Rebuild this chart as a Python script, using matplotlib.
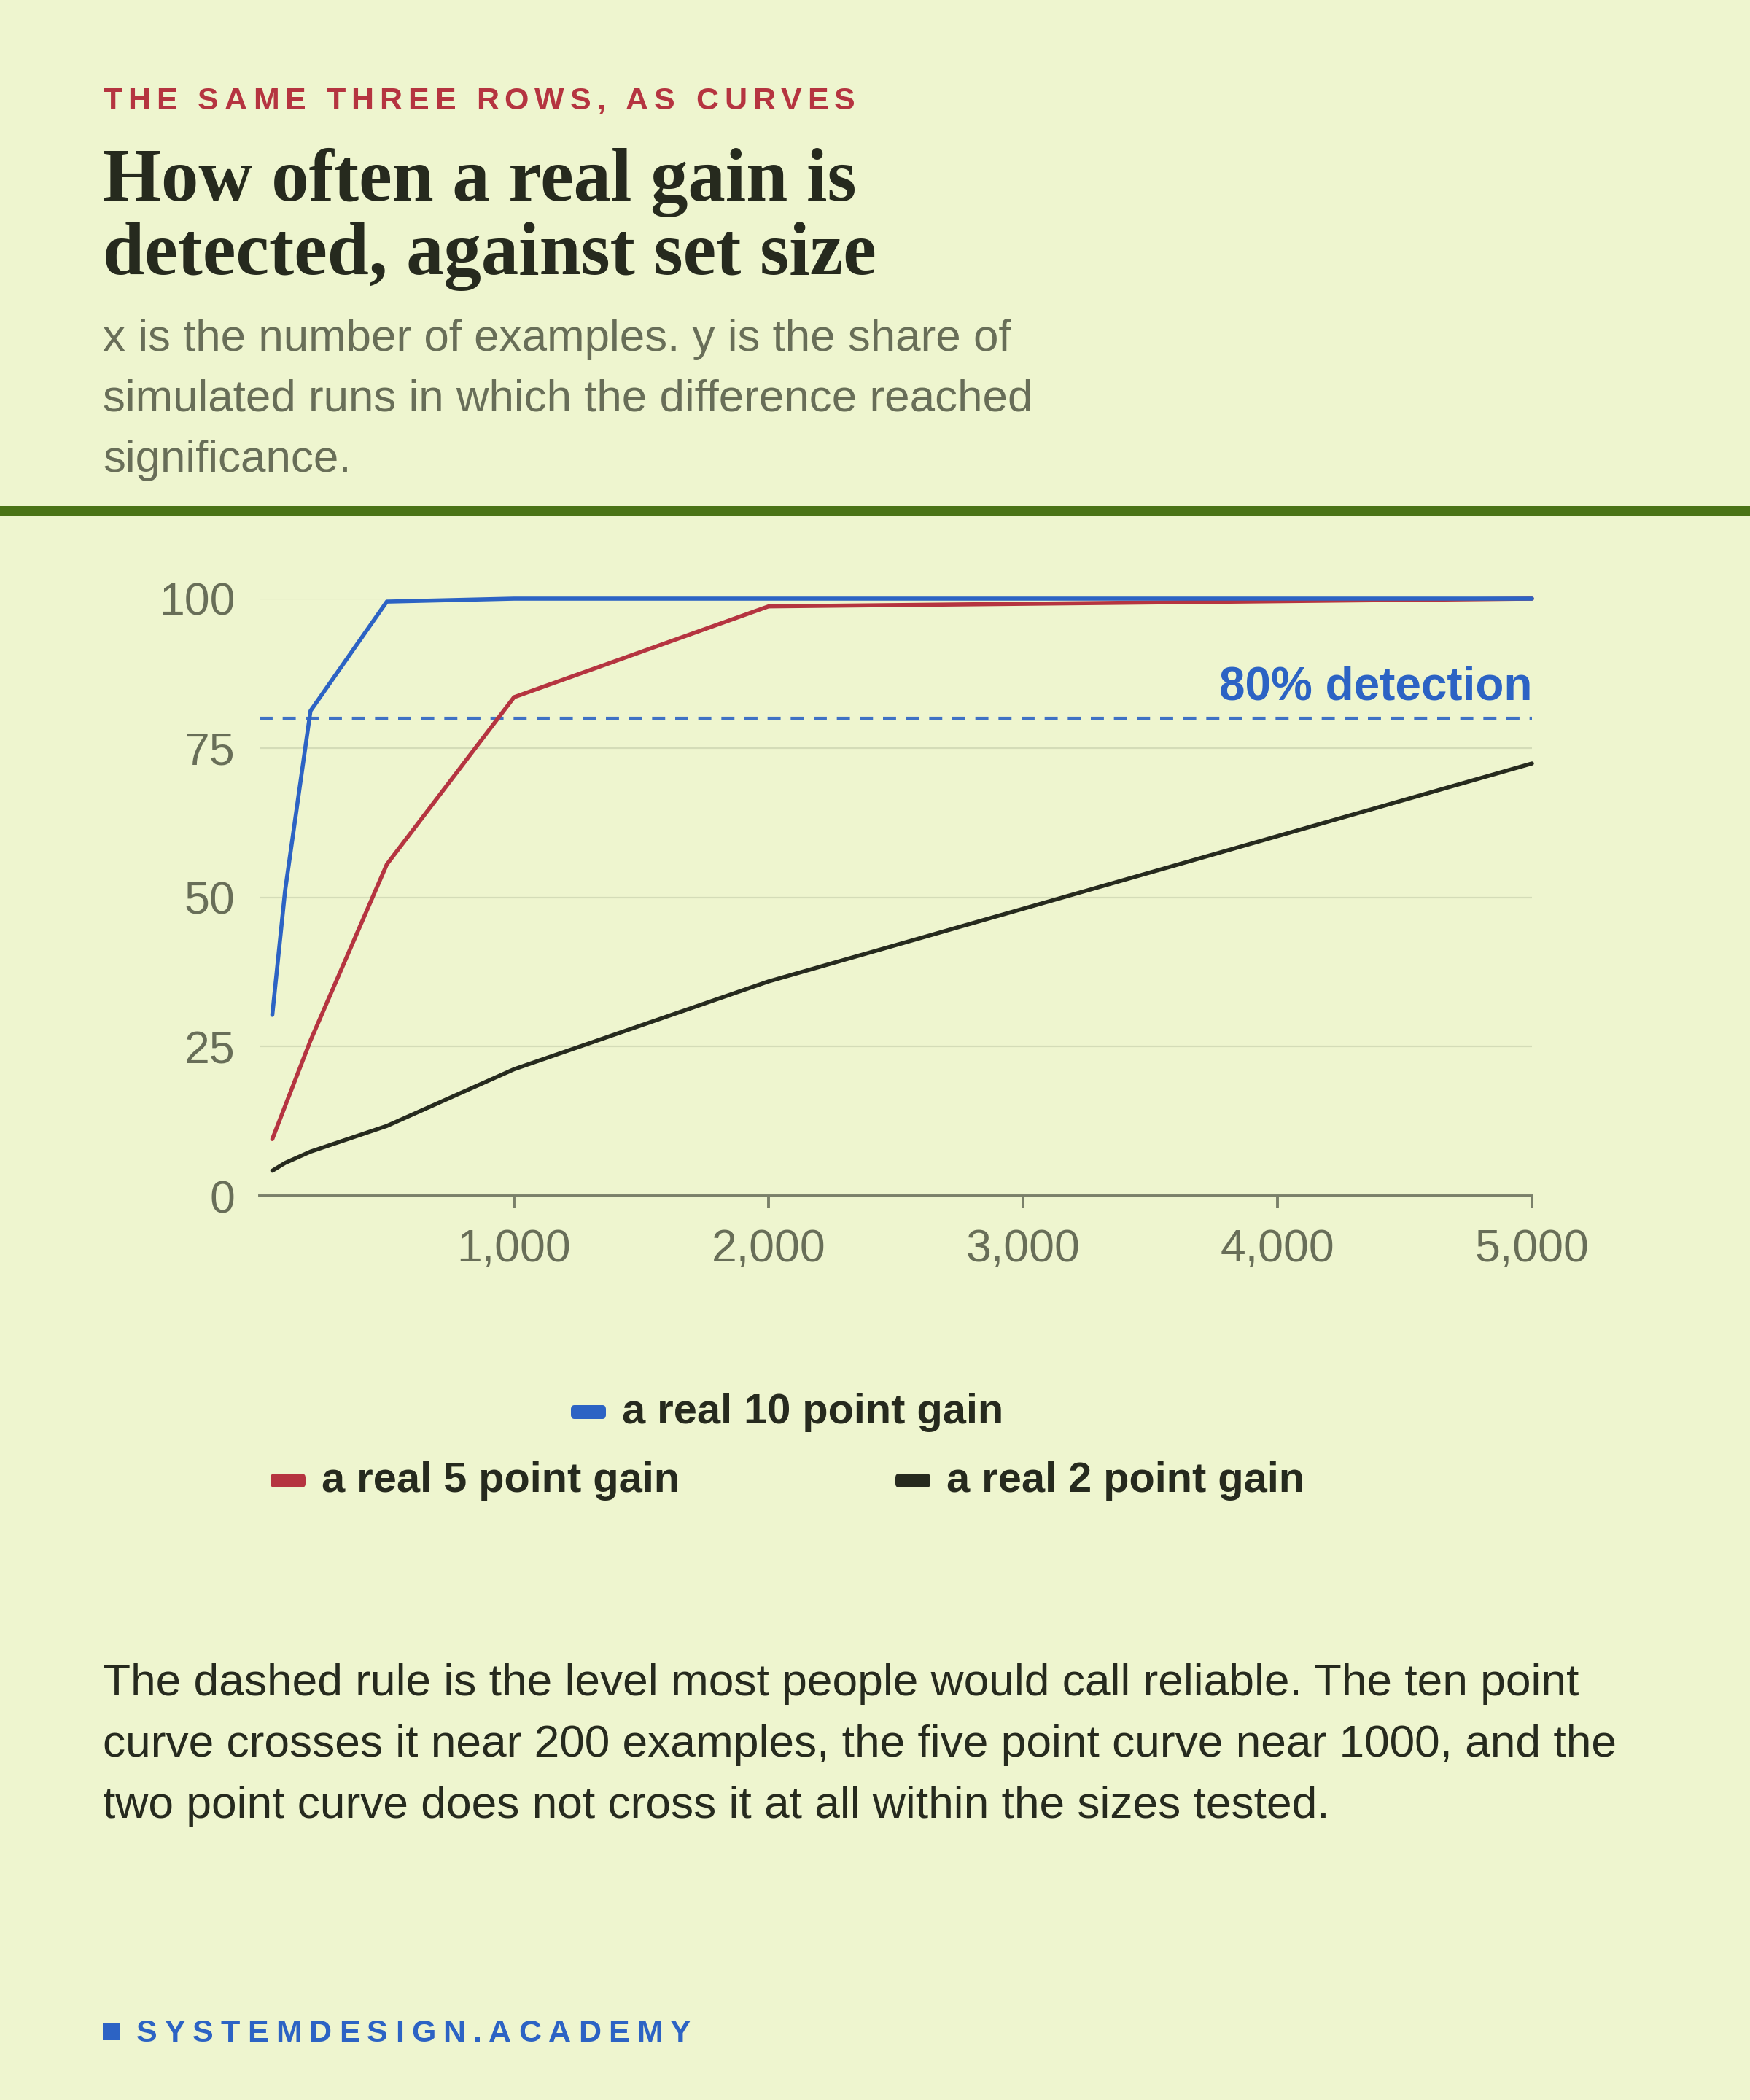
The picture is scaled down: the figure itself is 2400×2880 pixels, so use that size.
import matplotlib
matplotlib.use("Agg")
import matplotlib.pyplot as plt
from matplotlib.patches import FancyBboxPatch, Rectangle

# data
sizes = [50, 100, 200, 500, 1000, 2000, 5000]
gain10 = [30.3, 51.0, 81.2, 99.5, 100.0, 100.0, 100.0]
gain5 = [9.5, 15.0, 26.0, 55.5, 83.5, 98.7, 100.0]
gain2 = [4.2, 5.5, 7.4, 11.7, 21.2, 35.9, 72.4]
series_labels = ["a real 10 point gain", "a real 5 point gain", "a real 2 point gain"]
x_ticks = [1000, 2000, 3000, 4000, 5000]
y_ticks = [0, 25, 50, 75, 100]
threshold = 80

BG = "#EEF5CF"
BLUE = "#2C63C4"
RED = "#B53440"
DARK = "#262A1E"
GREY = "#686E58"
GREEN = "#4A7316"
GRID = "#D4DCB8"
AXIS = "#7A806A"

SANS = ["Liberation Sans", "DejaVu Sans"]
SERIF = ["Liberation Serif", "DejaVu Serif"]

W, H = 2400, 2880
DPI = 200
fig = plt.figure(figsize=(W / DPI, H / DPI), dpi=DPI, facecolor=BG)


def fx(px):
    return px / W


def fy(py):
    return 1 - py / H


def spaced(x, y, s, track, **kw):
    # letter-spaced text, drawn one glyph at a time
    r = fig.canvas.get_renderer()

    def width(t):
        tt = fig.text(0, 0, t, **kw)
        w = tt.get_window_extent(r).width
        tt.remove()
        return w

    space = width("a a") - width("aa")
    cx = x
    for ch in s:
        if ch == " ":
            cx += space + track
            continue
        fig.text(fx(cx), fy(y), ch, va="baseline", ha="left", **kw)
        cx += width(ch) + track
    return cx


# header
spaced(141, 150, "THE SAME THREE ROWS, AS CURVES", 8.0,
       color=RED, fontsize=15.5, fontweight="bold", family=SANS)
fig.text(fx(141), fy(275), "How often a real gain is", fontsize=37,
         fontweight="bold", family=SERIF, color=DARK, va="baseline")
fig.text(fx(141), fy(376), "detected, against set size", fontsize=37,
         fontweight="bold", family=SERIF, color=DARK, va="baseline")
for i, line in enumerate(["x is the number of examples. y is the share of",
                          "simulated runs in which the difference reached",
                          "significance."]):
    fig.text(fx(141), fy(481 + i * 83), line, fontsize=22.3, family=SANS,
             color=GREY, va="baseline")

fig.patches.append(Rectangle((0, fy(707)), 1, 13 / H, transform=fig.transFigure,
                             facecolor=GREEN, edgecolor="none"))

# chart
ax = fig.add_axes([fx(356), fy(1640), fx(2101 - 356), (1640 - 821) / H])
ax.set_facecolor(BG)
for vals, c in zip([gain2, gain5, gain10], [DARK, RED, BLUE]):
    ax.plot(sizes, vals, color=c, lw=2.0, solid_capstyle="round",
            solid_joinstyle="round", clip_on=False, zorder=3)
ax.axhline(threshold, color=BLUE, lw=1.5, dashes=(4.3, 3.3), alpha=0.9, zorder=2)
ax.text(5000, threshold + 1.5, "80% detection", ha="right", va="bottom",
        color=BLUE, fontsize=23, fontweight="bold", family=SANS)

ax.set_xlim(0, 5000)
ax.set_ylim(0, 100)
ax.set_xticks(x_ticks)
ax.set_xticklabels([f"{v:,}" for v in x_ticks])
ax.set_yticks(y_ticks)
ax.grid(axis="y", color=GRID, lw=0.8)
ax.set_axisbelow(True)
for s in ["top", "right", "left"]:
    ax.spines[s].set_visible(False)
ax.spines["bottom"].set_color(AXIS)
ax.spines["bottom"].set_linewidth(1.4)
ax.tick_params(axis="x", length=6, width=1.4, color=AXIS, pad=10,
               labelsize=22.5, labelcolor=GREY)
ax.tick_params(axis="y", length=0, pad=12, labelsize=22.5, labelcolor=GREY)
for lab in ax.get_xticklabels() + ax.get_yticklabels():
    lab.set_family(SANS)

# legend, laid out as in the reference
legend_items = [
    (series_labels[0], BLUE, 783, 1937),
    (series_labels[1], RED, 371, 2031),
    (series_labels[2], DARK, 1228, 2031),
]
for label, c, x0, yc in legend_items:
    fig.patches.append(FancyBboxPatch((fx(x0), fy(yc + 9)), fx(48), 19 / H,
                                      boxstyle="round,pad=0,rounding_size=0.002",
                                      transform=fig.transFigure, facecolor=c,
                                      edgecolor="none"))
    fig.text(fx(x0 + 70), fy(yc), label, fontsize=20.8, fontweight="bold",
             family=SANS, color=DARK, va="center")

# note
note = ["The dashed rule is the level most people would call reliable. The ten point",
        "curve crosses it near 200 examples, the five point curve near 1000, and the",
        "two point curve does not cross it at all within the sizes tested."]
for i, line in enumerate(note):
    fig.text(fx(141), fy(2325 + i * 84), line, fontsize=22.4, family=SANS,
             color=DARK, va="baseline")

# footer
fig.patches.append(Rectangle((fx(141), fy(2798)), fx(24), 24 / H,
                             transform=fig.transFigure, facecolor=BLUE,
                             edgecolor="none"))
spaced(187, 2800, "SYSTEMDESIGN.ACADEMY", 10.0, color=BLUE, fontsize=15.5,
       fontweight="bold", family=SANS)

fig.savefig("out.png", dpi=DPI, facecolor=BG)
